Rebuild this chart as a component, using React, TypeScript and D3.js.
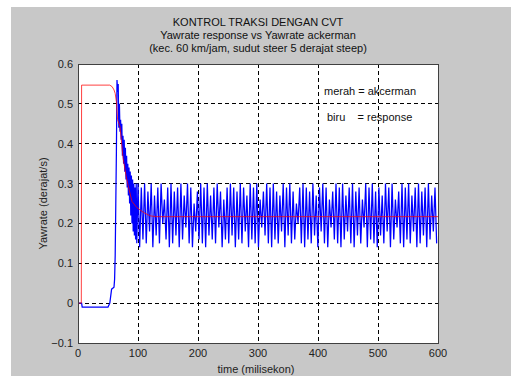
import React from 'react';
import * as d3 from 'd3';

// red = ackerman yawrate
const redTime = [0, 5.5, 6, 53, 57, 60, 62, 64, 66, 70, 75, 80, 84, 90, 98, 105, 110, 120, 130, 600];
const redValue = [0, 0, 0.547, 0.547, 0.543, 0.535, 0.526, 0.505, 0.46, 0.443, 0.365, 0.32, 0.292, 0.255, 0.24, 0.232, 0.227, 0.219, 0.217, 0.217];

// blue = response, start + transient
const blueStartTime = [0, 6, 7, 50, 53, 56, 60, 61, 62, 63, 64, 65, 66, 67, 68, 69, 70, 71, 72, 73, 74, 75, 76, 77, 78, 79, 80, 81, 82, 83, 84, 85, 86, 87, 88, 89, 90, 91, 92, 93, 94, 95, 96, 97, 98];
const blueStartValue = [0, 0, -0.01, -0.01, 0, 0.035, 0.04, 0.06, 0.12, 0.25, 0.38, 0.56, 0.53, 0.55, 0.44, 0.5, 0.43, 0.46, 0.41, 0.45, 0.37, 0.42, 0.35, 0.41, 0.33, 0.39, 0.31, 0.37, 0.29, 0.35, 0.27, 0.34, 0.25, 0.33, 0.22, 0.32, 0.2, 0.31, 0.18, 0.3, 0.17, 0.29, 0.16, 0.3, 0.15];

// steady oscillation: peaks and troughs, one cycle every 5.5 ms from t = 100
const oscStart = 100;
const oscPeriod = 5.5;
const blueHigh = [
  0.30, 0.29, 0.30, 0.28, 0.30, 0.27, 0.29, 0.30, 0.26, 0.29,
  0.30, 0.28, 0.29, 0.30, 0.27, 0.30, 0.29, 0.25, 0.28, 0.30,
  0.29, 0.30, 0.27, 0.29, 0.30, 0.28, 0.26, 0.29, 0.30, 0.29,
  0.28, 0.30, 0.29, 0.27, 0.30, 0.29, 0.30, 0.26, 0.28, 0.30,
  0.29, 0.30, 0.28, 0.27, 0.30, 0.29, 0.30, 0.28, 0.25, 0.29,
  0.30, 0.29, 0.28, 0.30, 0.27, 0.29, 0.30, 0.29, 0.26, 0.28,
  0.30, 0.29, 0.30, 0.27, 0.29, 0.30, 0.28, 0.29, 0.26, 0.30,
  0.29, 0.30, 0.28, 0.29, 0.27, 0.30, 0.29, 0.30, 0.26, 0.28,
  0.30, 0.29, 0.30, 0.27, 0.29, 0.30, 0.28, 0.29, 0.30, 0.27,
  0.29,
];
const blueLow = [
  0.14, 0.16, 0.15, 0.18, 0.14, 0.17, 0.15, 0.20, 0.16, 0.14,
  0.15, 0.17, 0.14, 0.16, 0.19, 0.15, 0.14, 0.18, 0.16, 0.15,
  0.14, 0.17, 0.16, 0.15, 0.19, 0.14, 0.16, 0.15, 0.17, 0.14,
  0.16, 0.15, 0.18, 0.14, 0.16, 0.15, 0.14, 0.19, 0.17, 0.15,
  0.14, 0.16, 0.15, 0.18, 0.14, 0.17, 0.15, 0.16, 0.20, 0.15,
  0.14, 0.16, 0.15, 0.17, 0.14, 0.18, 0.15, 0.14, 0.19, 0.16,
  0.15, 0.14, 0.16, 0.18, 0.15, 0.14, 0.17, 0.15, 0.19, 0.14,
  0.16, 0.15, 0.14, 0.17, 0.15, 0.18, 0.14, 0.16, 0.19, 0.15,
  0.14, 0.16, 0.15, 0.18, 0.14, 0.15, 0.17, 0.14, 0.16, 0.18,
  0.15,
];

const xTicks = [0, 100, 200, 300, 400, 500, 600];
const yTicks = [-0.1, 0, 0.1, 0.2, 0.3, 0.4, 0.5, 0.6];
const titleLines = [
  'KONTROL TRAKSI DENGAN CVT',
  'Yawrate response vs Yawrate ackerman',
  '(kec. 60 km/jam, sudut steer 5 derajat steep)',
];

const W = 511;
const H = 378;
const plot = { left: 78, top: 64, right: 438, bottom: 343 };
const font = 'Arial, "Liberation Sans", Helvetica, sans-serif';

export default function App() {
  const x = d3.scaleLinear().domain([0, 600]).range([plot.left, plot.right]);
  const y = d3.scaleLinear().domain([-0.1, 0.6]).range([plot.bottom, plot.top]);

  const red: [number, number][] = redTime.map((t, i) => [t, redValue[i]]);
  const blue: [number, number][] = blueStartTime.map((t, i) => [t, blueStartValue[i]]);
  blueHigh.forEach((v, i) => {
    blue.push([oscStart + i * oscPeriod, v]);
    blue.push([oscStart + i * oscPeriod + oscPeriod / 2, blueLow[i]]);
  });

  const line = d3.line<[number, number]>().x(d => x(d[0])).y(d => y(d[1]));

  return (
    <div style={{ position: 'absolute', left: 0, top: 0 }}>
      <svg width={W} height={H} style={{ display: 'block', fontFamily: font }}>
        <rect x={0} y={0} width={W} height={H} fill="#ffffff" />
        <rect x={11} y={7} width={W - 11} height={369} fill="#c8c8c8" />
        <rect x={plot.left} y={plot.top} width={plot.right - plot.left} height={plot.bottom - plot.top} fill="#ffffff" />
        <defs>
          <clipPath id="pa">
            <rect x={plot.left} y={plot.top} width={plot.right - plot.left} height={plot.bottom - plot.top} />
          </clipPath>
        </defs>

        {/* grid */}
        {xTicks.slice(1, -1).map(t => (
          <line key={'gx' + t} x1={x(t)} x2={x(t)} y1={plot.top} y2={plot.bottom}
            stroke="#000" strokeWidth={1} strokeDasharray="4,3" shapeRendering="crispEdges" />
        ))}
        {yTicks.slice(1, -1).map(t => (
          <line key={'gy' + t} x1={plot.left} x2={plot.right} y1={y(t)} y2={y(t)}
            stroke="#000" strokeWidth={1} strokeDasharray="4,3" shapeRendering="crispEdges" />
        ))}

        <g clipPath="url(#pa)">
          <path d={line(blue) || ''} fill="none" stroke="#0000ff" strokeWidth={1.25} />
          <path d={line(red) || ''} fill="none" stroke="#ff0000" strokeWidth={1} strokeOpacity={0.75} />
        </g>

        <rect x={plot.left} y={plot.top} width={plot.right - plot.left} height={plot.bottom - plot.top}
          fill="none" stroke="#404040" strokeWidth={1} shapeRendering="crispEdges" />

        {/* tick labels */}
        {xTicks.map(t => (
          <text key={'tx' + t} x={x(t)} y={plot.bottom + 14} textAnchor="middle" fontSize={11} fill="#222">{t}</text>
        ))}
        {yTicks.map(t => (
          <text key={'ty' + t} x={plot.left - 5} y={y(t) + 4} textAnchor="end" fontSize={11} fill="#222">
            {d3.format('~g')(+t.toFixed(1))}
          </text>
        ))}

        {titleLines.map((s, i) => (
          <text key={s} x={(plot.left + plot.right) / 2} y={26 + i * 13} textAnchor="middle" fontSize={11} fill="#111">{s}</text>
        ))}

        <text x={(plot.left + plot.right) / 2 - 2} y={373} textAnchor="middle" fontSize={11} fill="#222">time (milisekon)</text>
        <text transform={`translate(47,${(plot.top + plot.bottom) / 2}) rotate(-90)`} textAnchor="middle" fontSize={11} fill="#222">
          Yawrate (derajat/s)
        </text>

        <text x={x(410)} y={y(0.522)} fontSize={11} fill="#111">merah = akcerman</text>
        <text x={x(415)} y={y(0.457)} fontSize={11} fill="#111" style={{ whiteSpace: 'pre' }}>{'biru    = response'}</text>
      </svg>
    </div>
  );
}
